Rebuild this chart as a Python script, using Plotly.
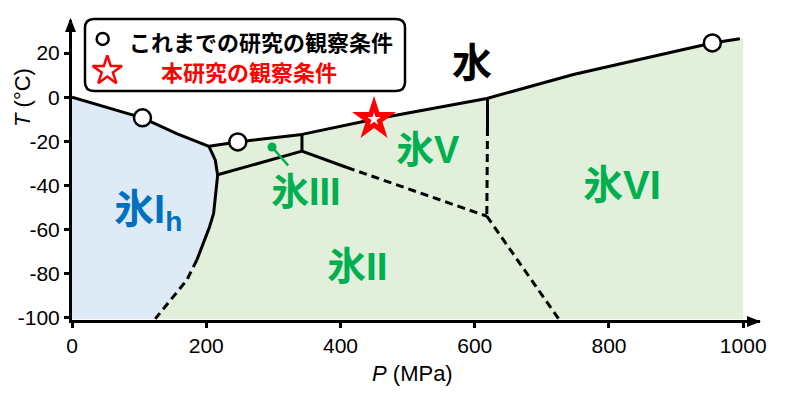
import plotly.graph_objects as go

# ---------------- data (P in MPa, T in deg C) ----------------
ih_liq_P = [0, 42, 105, 156, 204]
ih_liq_T = [0, -3.7, -9.4, -16.5, -22.3]

ih_hp_P = [204, 213.5, 217, 215, 211, 205, 193.6, 186]
ih_hp_T = [-22.3, -28.6, -35.4, -42.2, -52.7, -58.8, -67.9, -73.9]
ih_ii_dash_P = [186, 171, 151, 124]
ih_ii_dash_T = [-73.9, -83, -90.5, -100.6]

iii_liq_P = [204, 247, 342.6]
iii_liq_T = [-22.3, -20.3, -16.9]
iii_ii_P = [217, 342.6]
iii_ii_T = [-35.2, -24.5]
iii_v_P = [342.6, 342.6]
iii_v_T = [-16.9, -24.5]

v_liq_P = [342.6, 450, 618]
v_liq_T = [-16.9, -10, -0.6]
v_ii_P = [342.6, 409.6]
v_ii_T = [-24.5, -31.9]
v_ii_dash_P = [409.6, 618]
v_ii_dash_T = [-31.9, -54]
v_vi_P = [619, 619]
v_vi_T = [-0.6, -14]
v_vi_dash_P = [619, 618]
v_vi_dash_T = [-14, -54]
ii_vi_dash_P = [618, 726]
ii_vi_dash_T = [-54, -101]

vi_liq_P = [618, 747, 906, 954, 995, 1000]
vi_liq_T = [-0.6, 10.3, 21.3, 24.6, 26.5, 26.8]

prev_P = [105, 247, 954]
prev_T = [-9.4, -20.3, 24.6]
this_P = [450]
this_T = [-10]

iii_pointer_P = [298, 322]
iii_pointer_T = [-22.6, -31]

fill_bottom_T = -100.6
fill_right_P = 1000

x_ticks = [0, 200, 400, 600, 800, 1000]
y_ticks = [-100, -80, -60, -40, -20, 0, 20]

labels = [
    ("水", 596, 15.4, "black", 40),
    ("氷V", 531, -24, "#00b050", 38),
    ("氷VI", 820, -40, "#00b050", 40),
    ("氷III", 349, -43, "#00b050", 38),
    ("氷II", 425, -77, "#00b050", 39),
    ("氷I<sub>h</sub>", 113, -52, "#0070c0", 40),
]

legend_prev_text = "これまでの研究の観察条件"
legend_this_text = "本研究の観察条件"

# ---------------- figure ----------------
FONT = "Liberation Sans, Arial, Noto Sans CJK JP"
CJK = "Noto Sans CJK JP, Liberation Sans"
BLUE_FILL = "#deebf7"
GREEN_FILL = "#e2efda"
LW = 3

fig = go.Figure()

# ice Ih region
blue_P = ih_liq_P + ih_hp_P[1:] + ih_ii_dash_P[1:] + [0]
blue_T = ih_liq_T + ih_hp_T[1:] + ih_ii_dash_T[1:] + [fill_bottom_T]
fig.add_trace(go.Scatter(x=blue_P, y=blue_T, fill="toself", fillcolor=BLUE_FILL,
                         mode="none", hoverinfo="skip"))

# high-pressure ice region
green_P = (iii_liq_P + v_liq_P[1:] + vi_liq_P[1:] + [fill_right_P]
           + ih_ii_dash_P[::-1] + ih_hp_P[::-1][1:])
green_T = (iii_liq_T + v_liq_T[1:] + vi_liq_T[1:] + [fill_bottom_T]
           + ih_ii_dash_T[::-1] + ih_hp_T[::-1][1:])
fig.add_trace(go.Scatter(x=green_P, y=green_T, fill="toself", fillcolor=GREEN_FILL,
                         mode="none", hoverinfo="skip"))

solid = [(ih_liq_P, ih_liq_T), (ih_hp_P, ih_hp_T), (iii_liq_P, iii_liq_T),
         (iii_ii_P, iii_ii_T), (iii_v_P, iii_v_T), (v_liq_P, v_liq_T),
         (v_ii_P, v_ii_T), (v_vi_P, v_vi_T), (vi_liq_P[:-1], vi_liq_T[:-1])]
dashed = [(ih_ii_dash_P, ih_ii_dash_T), (v_ii_dash_P, v_ii_dash_T),
          (v_vi_dash_P, v_vi_dash_T), (ii_vi_dash_P, ii_vi_dash_T)]
for xs, ys in solid:
    fig.add_trace(go.Scatter(x=xs, y=ys, mode="lines",
                             line=dict(color="black", width=LW), hoverinfo="skip"))
for xs, ys in dashed:
    fig.add_trace(go.Scatter(x=xs, y=ys, mode="lines",
                             line=dict(color="black", width=LW, dash="8px,5px"),
                             hoverinfo="skip"))

# ice III pointer
fig.add_trace(go.Scatter(x=iii_pointer_P, y=iii_pointer_T, mode="lines",
                         line=dict(color="#00b050", width=2.5), hoverinfo="skip"))
fig.add_trace(go.Scatter(x=iii_pointer_P[:1], y=iii_pointer_T[:1], mode="markers",
                         marker=dict(color="#00b050", size=9), hoverinfo="skip"))

# observation conditions
fig.add_trace(go.Scatter(x=prev_P, y=prev_T, mode="markers", cliponaxis=False,
                         marker=dict(symbol="circle", size=17, color="white",
                                     line=dict(color="black", width=2.5))))
fig.add_trace(go.Scatter(x=this_P, y=this_T, mode="markers", cliponaxis=False,
                         marker=dict(symbol="star", size=33, color="#ff0000",
                                     line=dict(width=0))))
fig.add_trace(go.Scatter(x=this_P, y=this_T, mode="markers", cliponaxis=False,
                         marker=dict(symbol="star", size=10, color="white",
                                     line=dict(width=0))))

# legend markers
fig.add_trace(go.Scatter(x=[45.7], y=[26.4], mode="markers", cliponaxis=False,
                         marker=dict(symbol="circle", size=12, color="white",
                                     line=dict(color="black", width=2.5))))
fig.add_trace(go.Scatter(x=[52.6], y=[12], mode="markers", cliponaxis=False,
                         marker=dict(symbol="star-open", size=22, color="#ff0000",
                                     line=dict(color="#ff0000", width=2.5))))

# plot-area geometry (pixels)
L, T, W, H = 72, 20, 688, 300
def px(x):
    return (x - L) / W
def py(y):
    return 1 - (y - T) / H

# legend box (rounded)
x0, x1, y0, y1 = px(85), px(405), py(91), py(19)
rx, ry = 9 / W, 9 / H
path = (f"M{x0+rx},{y1} L{x1-rx},{y1} Q{x1},{y1} {x1},{y1-ry} "
        f"L{x1},{y0+ry} Q{x1},{y0} {x1-rx},{y0} L{x0+rx},{y0} "
        f"Q{x0},{y0} {x0},{y0+ry} L{x0},{y1-ry} Q{x0},{y1} {x0+rx},{y1} Z")
shapes = [dict(type="path", path=path, xref="paper", yref="paper",
               line=dict(color="black", width=2.5), fillcolor="rgba(255,255,255,0)",
               layer="above")]
# axis arrowheads
shapes.append(dict(type="path", xref="paper", yref="paper", fillcolor="black",
                   line=dict(width=0),
                   path=f"M{px(761)},{py(321.5)} L{px(747)},{py(316)} L{px(747)},{py(327)} Z"))
shapes.append(dict(type="path", xref="paper", yref="paper", fillcolor="black",
                   line=dict(width=0),
                   path=f"M{px(70.5)},{py(18)} L{px(65)},{py(32)} L{px(76)},{py(32)} Z"))

annotations = []
for text, x, y, color, size in labels:
    annotations.append(dict(x=x, y=y, xref="x", yref="y", text=f"<b>{text}</b>",
                            showarrow=False, xanchor="center", yanchor="middle",
                            font=dict(family=FONT, size=size, color=color)))
annotations.append(dict(x=px(127), y=py(41), xref="paper", yref="paper",
                        text=f"<b>{legend_prev_text}</b>", showarrow=False,
                        xanchor="left", yanchor="middle",
                        font=dict(family=CJK, size=22, color="black")))
annotations.append(dict(x=px(159), y=py(71), xref="paper", yref="paper",
                        text=f"<b>{legend_this_text}</b>", showarrow=False,
                        xanchor="left", yanchor="middle",
                        font=dict(family=CJK, size=22, color="#ff0000")))
annotations.append(dict(x=px(412), y=py(373), xref="paper", yref="paper",
                        text="<i>P</i> (MPa)", showarrow=False,
                        xanchor="center", yanchor="middle",
                        font=dict(family=FONT, size=22, color="black")))
annotations.append(dict(x=px(22), y=py(98), xref="paper", yref="paper",
                        text="<i>T</i> (°C)", showarrow=False, textangle=-90,
                        xanchor="center", yanchor="middle",
                        font=dict(family=FONT, size=22, color="black")))

axis_common = dict(showline=True, linewidth=LW, linecolor="black", ticks="outside",
                   ticklen=5, tickwidth=2.5, tickcolor="black", showgrid=False,
                   zeroline=False, automargin=False,
                   tickfont=dict(family=FONT, size=21, color="black"))

fig.update_layout(
    width=789, height=398, showlegend=False,
    margin=dict(l=L, r=789 - L - W, t=T, b=398 - T - H),
    plot_bgcolor="white", paper_bgcolor="white",
    xaxis=dict(range=[0, 1025], tickvals=x_ticks, ticktext=[str(v) for v in x_ticks],
               **axis_common),
    yaxis=dict(range=[-101.1, 35], tickvals=y_ticks,
               ticktext=[str(v) for v in y_ticks], **axis_common),
    shapes=shapes, annotations=annotations,
)

fig.write_html("out.html", config={"displayModeBar": False},
               post_script="document.body.style.margin='0';"
                           "document.body.style.overflow='hidden';")
